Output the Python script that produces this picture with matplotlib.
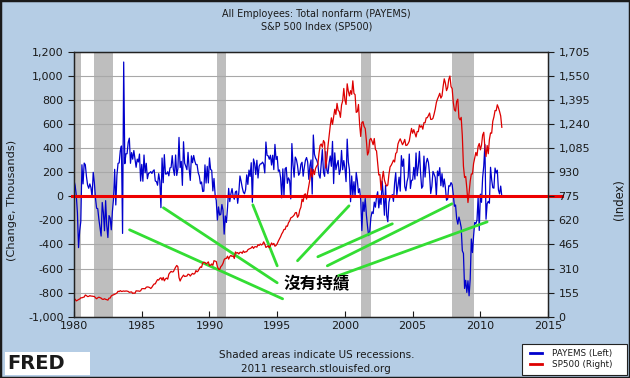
import numpy as np
import matplotlib.pyplot as plt
from matplotlib.lines import Line2D
from matplotlib.patches import Rectangle
from matplotlib.ticker import FuncFormatter

# ---------------- data (monthly, Jan 1980 onward) ----------------
payems_by_year = {
    1980: [131, 88, 9, -137, -426, -286, -210, 262, 103, 276, 262, 166],
    1981: [95, 67, 103, 72, -9, 199, 115, -15, -99, -102, -189, -262],
    1982: [-330, -51, -134, -286, -36, -243, -342, -160, -180, -278, -125, -20],
    1983: [224, -72, 175, 274, 277, 379, 418, -308, 1115, 271, 353, 354],
    1984: [448, 483, 274, 363, 308, 380, 312, 241, 309, 285, 351, 127],
    1985: [265, 125, 343, 195, 274, 146, 190, 195, 205, 190, 210, 220],
    1986: [127, 123, 92, 188, 127, -94, 318, 113, 346, 185, 186, 204],
    1987: [170, 236, 240, 338, 224, 174, 343, 173, 228, 489, 239, 290],
    1988: [91, 453, 275, 250, 221, 365, 229, 132, 336, 279, 339, 293],
    1989: [263, 264, 197, 168, 104, 119, 40, 43, 261, 110, 249, 111],
    1990: [319, 223, 216, 45, 148, 13, -34, -197, -88, -156, -150, -68],
    1991: [-116, -314, -163, -217, -93, 66, -44, 22, 64, 0, -24, 37],
    1992: [44, -58, 31, 169, 127, 74, 35, 21, 54, 178, 99, 218],
    1993: [165, 279, -49, 310, 272, 181, 299, 152, 250, 269, 270, 284],
    1994: [267, 194, 451, 340, 336, 308, 341, 260, 341, 222, 431, 306],
    1995: [331, 208, 219, 154, -13, 228, 2, 229, 240, 108, 153, 132],
    1996: [-21, 438, 261, 159, 326, 307, 256, 175, 192, 266, 283, 167],
    1997: [239, 299, 322, 285, 141, 254, 302, 19, 509, 349, 317, 301],
    1998: [271, 177, 151, 269, 388, 199, 166, 371, 216, 188, 280, 335],
    1999: [249, 456, 106, 361, 221, 264, 298, 181, 220, 381, 221, 297],
    2000: [233, 122, 475, 287, 221, -45, 169, 7, 121, -1, 198, 131],
    2001: [30, 63, -33, -285, -48, -125, -18, -154, -248, -326, -292, -177],
    2002: [-129, -143, -48, -90, -7, 38, -96, -14, -67, 126, 7, -157],
    2003: [91, -159, -211, -49, -6, -2, 14, -42, 108, 196, 13, 87],
    2004: [159, 43, 338, 249, 310, 81, 46, 121, 160, 351, 65, 133],
    2005: [135, 240, 142, 360, 170, 246, 373, 196, 67, 84, 334, 160],
    2006: [277, 315, 280, 182, 23, 82, 207, 184, 157, 2, 210, 171],
    2007: [238, 88, 188, 78, 144, 71, -33, -24, 88, 84, 114, 97],
    2008: [13, -83, -72, -185, -231, -172, -210, -259, -452, -474, -765, -697],
    2009: [-798, -701, -826, -684, -354, -467, -327, -216, -227, -198, -6, -283],
    2010: [18, -50, 156, 251, 430, -190, -61, -42, -57, 241, 137, 71],
    2011: [68, 235, 194, 217, 53, 20, 85, 0],
}

sp500_by_year = {
    1980: [114, 113, 102, 106, 111, 114, 122, 122, 125, 127, 140, 136],
    1981: [130, 131, 136, 133, 133, 131, 131, 122, 116, 122, 126, 123],
    1982: [120, 113, 112, 116, 112, 110, 107, 120, 120, 134, 139, 141],
    1983: [145, 148, 153, 164, 162, 168, 163, 164, 166, 164, 166, 165],
    1984: [163, 157, 159, 160, 150, 153, 151, 167, 166, 166, 164, 167],
    1985: [180, 181, 181, 180, 190, 192, 191, 188, 182, 190, 202, 211],
    1986: [212, 227, 239, 236, 247, 251, 236, 253, 231, 244, 249, 242],
    1987: [274, 284, 292, 288, 290, 304, 319, 330, 322, 252, 230, 247],
    1988: [257, 268, 259, 261, 262, 274, 272, 262, 272, 279, 274, 278],
    1989: [297, 289, 295, 310, 321, 318, 346, 351, 349, 340, 346, 353],
    1990: [329, 332, 340, 331, 361, 358, 356, 323, 306, 304, 322, 330],
    1991: [344, 367, 375, 375, 390, 371, 388, 395, 388, 392, 375, 417],
    1992: [409, 413, 404, 415, 415, 408, 424, 414, 418, 419, 431, 436],
    1993: [439, 443, 452, 440, 450, 451, 448, 464, 459, 468, 462, 466],
    1994: [482, 467, 446, 451, 457, 444, 458, 475, 463, 472, 454, 459],
    1995: [470, 487, 501, 515, 533, 545, 562, 562, 584, 582, 605, 616],
    1996: [636, 640, 646, 654, 669, 671, 640, 652, 687, 705, 757, 741],
    1997: [786, 791, 757, 801, 848, 885, 954, 899, 947, 915, 955, 970],
    1998: [980, 1049, 1102, 1112, 1091, 1134, 1121, 957, 1017, 1099, 1164, 1229],
    1999: [1280, 1238, 1286, 1335, 1302, 1373, 1329, 1320, 1283, 1362, 1389, 1469],
    2000: [1394, 1366, 1499, 1452, 1421, 1455, 1431, 1518, 1437, 1429, 1315, 1320],
    2001: [1366, 1240, 1160, 1249, 1256, 1224, 1211, 1134, 1041, 1060, 1139, 1148],
    2002: [1130, 1107, 1147, 1077, 1067, 990, 912, 916, 815, 886, 936, 880],
    2003: [856, 841, 848, 917, 964, 975, 990, 1008, 996, 1051, 1058, 1112],
    2004: [1131, 1145, 1126, 1107, 1121, 1141, 1102, 1104, 1115, 1130, 1174, 1212],
    2005: [1181, 1204, 1181, 1157, 1192, 1191, 1234, 1220, 1229, 1207, 1249, 1248],
    2006: [1280, 1281, 1295, 1311, 1270, 1270, 1277, 1304, 1336, 1378, 1401, 1418],
    2007: [1438, 1407, 1421, 1482, 1531, 1503, 1455, 1474, 1527, 1549, 1481, 1468],
    2008: [1379, 1331, 1323, 1386, 1400, 1280, 1267, 1283, 1165, 969, 896, 903],
    2009: [826, 735, 798, 873, 919, 919, 987, 1021, 1057, 1036, 1096, 1115],
    2010: [1074, 1104, 1169, 1187, 1089, 1031, 1102, 1049, 1141, 1183, 1181, 1258],
    2011: [1286, 1327, 1326, 1364, 1345, 1321, 1292, 1219],
}

# US recessions (start, end) in fractional years
recessions = [(1980.0, 1980.5), (1981.5, 1982.9), (1990.55, 1991.2),
              (2001.2, 2001.9), (2007.9, 2009.5)]

# hand-drawn green arrows: (x0, y0, x1, y1) in left-axis data units
green_lines = [
    (1984.1, -278, 1995.4, -851),
    (1986.6, -95, 1995.0, -718),
    (1993.2, -71, 1995.0, -577),
    (1996.5, -535, 2000.3, -79),
    (1998.0, -502, 2003.5, -228),
    (1998.7, -577, 2007.9, -62),
    (1999.5, -660, 2010.5, -212),
]
note_pos = (1997.9, -726)

legend_labels = ['PAYEMS (Left)', 'SP500 (Right)']

payems = np.concatenate([payems_by_year[y] for y in sorted(payems_by_year)])
sp500 = np.concatenate([sp500_by_year[y] for y in sorted(sp500_by_year)])
t_pay = 1980 + np.arange(len(payems)) / 12.0
t_sp = 1980 + np.arange(len(sp500)) / 12.0

# ---------------- figure ----------------
bg = '#b5cde5'
txt = '#1a1a1a'
blue = '#0000cc'
red = '#dd0000'
plt.rcParams['font.family'] = ['DejaVu Sans']
fig = plt.figure(figsize=(6.3, 3.78), dpi=100, facecolor=bg)
ax = fig.add_axes([0.1175, 0.162, 0.7525, 0.701])
ax.set_facecolor('white')

for a, b in recessions:
    ax.axvspan(a, b, color='#bebebe', lw=0, zorder=0)

ax.set_xlim(1980, 2015)
ax.set_ylim(-1000, 1200)
ax.set_yticks(np.arange(-1000, 1201, 200))
ax.set_xticks(np.arange(1980, 2016, 5))
ax.yaxis.set_major_formatter(FuncFormatter(lambda v, p: f'{int(v):,}'))
ax.grid(axis='y', color='#a8a8a8', lw=0.8, zorder=1)
ax.set_axisbelow(True)

ax.plot(t_pay, payems, color=blue, lw=0.9, zorder=3)

ax2 = ax.twinx()
ax2.set_ylim(0, 1705)
ax2.set_yticks(np.arange(0, 1706, 155))
ax2.yaxis.set_major_formatter(FuncFormatter(lambda v, p: f'{int(v):,}'))
ax2.plot(t_sp, sp500, color=red, lw=0.9, zorder=2)

# zero line, reaching slightly past the frame
ax.axhline(0, xmin=-0.005, xmax=1.03, color='#ee0000', lw=2.2, zorder=4, clip_on=False)

for x0, y0, x1, y1 in green_lines:
    ax.plot([x0, x1], [y0, y1], color='#33dd33', lw=2, zorder=5, solid_capstyle='round')
ax.text(note_pos[0], note_pos[1], '沒有持績', fontsize=12, fontweight='bold',
        family=['Noto Sans CJK TC', 'DejaVu Sans'], ha='center', va='center', zorder=6)

for a in (ax, ax2):
    for s in a.spines.values():
        s.set_color('#222222')
        s.set_linewidth(0.9)
ax.tick_params(axis='y', direction='out', length=4, labelsize=8, colors=txt, width=0.8)
ax.tick_params(axis='x', direction='in', length=4, labelsize=8, colors=txt, width=0.8, pad=3)
ax2.tick_params(axis='y', direction='out', length=4, labelsize=8, colors=txt, width=0.8)

# text around the chart
fig.text(0.502, 0.963, 'All Employees: Total nonfarm (PAYEMS)', ha='center', va='center',
         fontsize=6.9, color=txt)
fig.text(0.502, 0.929, 'S&P 500 Index (SP500)', ha='center', va='center',
         fontsize=6.9, color=txt)
fig.text(0.019, 0.471, '(Change, Thousands)', rotation=90, ha='center', va='center',
         fontsize=8.2, color=txt)
fig.text(0.984, 0.471, '(Index)', rotation=90, ha='center', va='center',
         fontsize=8.4, color=txt)
fig.text(0.502, 0.061, 'Shaded areas indicate US recessions.', ha='center', va='center',
         fontsize=7.5, color=txt)
fig.text(0.502, 0.024, '2011 research.stlouisfed.org', ha='center', va='center',
         fontsize=7.5, color=txt)

# FRED logo
fig.patches.append(Rectangle((0.008, 0.008), 0.135, 0.062, transform=fig.transFigure,
                             facecolor='white', edgecolor='none'))
fig.text(0.012, 0.039, 'FRED', fontsize=14, fontweight='heavy', color=txt,
         ha='left', va='center')

# legend box drawn by hand to match the FRED layout
fig.patches.append(Rectangle((0.8286, 0.008), 0.1667, 0.082, transform=fig.transFigure,
                             facecolor='white', edgecolor='#222222', lw=0.8))
for color, label, yy in zip([blue, red], legend_labels, [0.066, 0.037]):
    fig.lines.append(Line2D([0.841, 0.860], [yy, yy], transform=fig.transFigure,
                            color=color, lw=2))
    fig.text(0.876, yy, label, fontsize=6.3, color=txt, ha='left', va='center')

# outer border
fig.patches.append(Rectangle((0, 0), 1, 1, transform=fig.transFigure, fill=False,
                             edgecolor=txt, lw=2.5))

fig.savefig('out.png', dpi=100, facecolor=bg)
